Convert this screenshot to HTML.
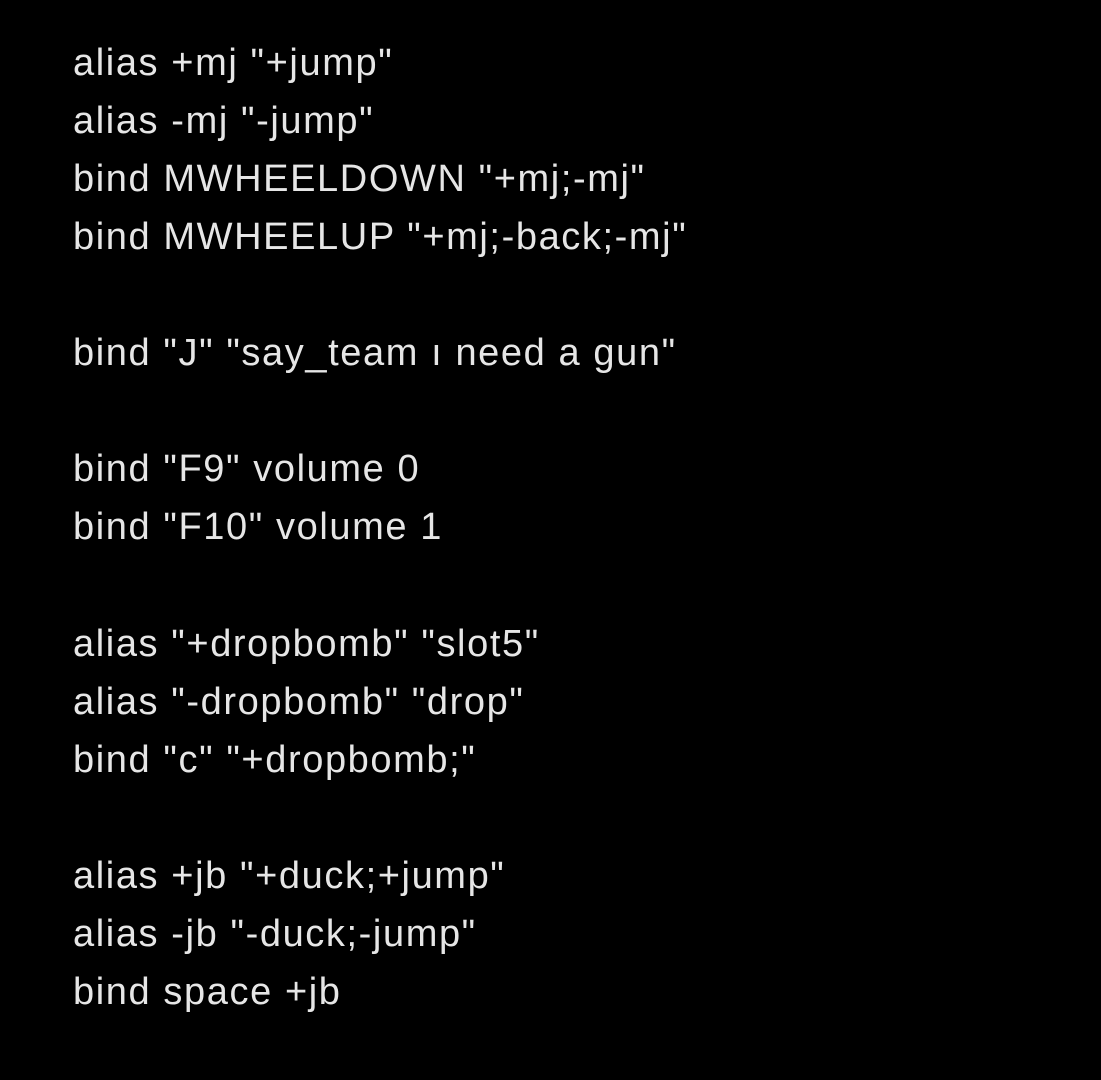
<!DOCTYPE html>
<html><head><meta charset="utf-8"><style>
html,body{margin:0;padding:0;background:#000;width:1101px;height:1080px;overflow:hidden}
.l{position:absolute;left:73px;height:58px;line-height:58px;font-family:"Liberation Sans",sans-serif;font-size:38px;letter-spacing:1.6px;color:#e6e6e6;white-space:pre}
</style></head><body>
<div class="l" style="top:34px">alias +mj "+jump"</div>
<div class="l" style="top:92px">alias -mj "-jump"</div>
<div class="l" style="top:150px">bind MWHEELDOWN "+mj;-mj"</div>
<div class="l" style="top:208px">bind MWHEELUP "+mj;-back;-mj"</div>
<div class="l" style="top:324px">bind "J" "say_team ı need a gun"</div>
<div class="l" style="top:440px">bind "F9" volume 0</div>
<div class="l" style="top:498px">bind "F10" volume 1</div>
<div class="l" style="top:615px">alias "+dropbomb" "slot5"</div>
<div class="l" style="top:673px">alias "-dropbomb" "drop"</div>
<div class="l" style="top:731px">bind "c" "+dropbomb;"</div>
<div class="l" style="top:847px">alias +jb "+duck;+jump"</div>
<div class="l" style="top:905px">alias -jb "-duck;-jump"</div>
<div class="l" style="top:963px">bind space +jb</div>
</body></html>
